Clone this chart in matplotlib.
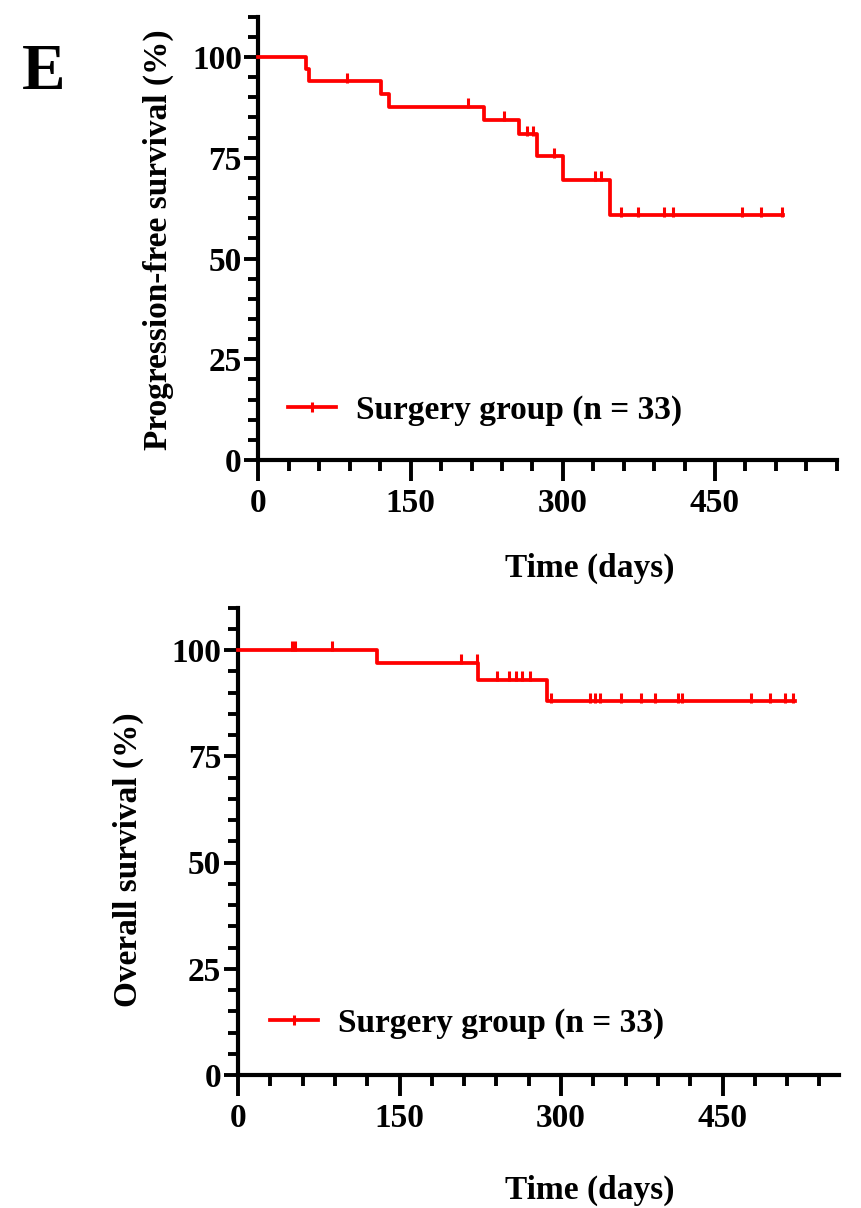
import numpy as np
import matplotlib
matplotlib.use("Agg")
import matplotlib.pyplot as plt
from matplotlib.lines import Line2D

plt.rcParams['font.family'] = ['Liberation Serif', 'DejaVu Serif']
plt.rcParams['font.weight'] = 'bold'

# progression-free survival (top)
pfs_times = [0, 47, 50, 121, 129, 222, 257, 275, 300, 347, 517]
pfs_surv = [100, 96.97, 93.94, 90.81, 87.68, 84.43, 80.8, 75.4, 69.5, 60.7, 60.7]
pfs_cens = [87, 207, 242, 265, 271, 291, 332, 338, 357, 374, 400, 409, 477, 495, 516]

# overall survival (bottom)
os_times = [0, 129, 223, 287, 517]
os_surv = [100, 96.9, 93.0, 87.9, 87.9]
os_cens = [50, 53, 87, 207, 222, 241, 252, 258, 264, 271, 291, 327, 332, 336,
           356, 374, 387, 409, 412, 476, 494, 508, 515]

xticks = [0, 150, 300, 450]
yticks = [0, 25, 50, 75, 100]
legend_label = "Surgery group (n = 33)"
RED = '#ff0000'
W, H = 862, 1208
FS = 24


def surv_at(times, surv, t):
    i = np.searchsorted(times, t, side='right') - 1
    return surv[i]


def km_panel(ax, times, surv, cens, xmax, leg_xy):
    ax.step(times, surv, where='post', color=RED, lw=2.7, clip_on=False, zorder=3)
    cy = [surv_at(times, surv, c) for c in cens]
    ax.plot(cens, np.array(cy) + 0.9, ls='none', marker='|', ms=7, mew=2.2,
            color=RED, clip_on=False, zorder=3)
    ax.set_xlim(0, xmax)
    ax.set_ylim(0, 110)
    ax.set_xticks(xticks)
    ax.set_xticks(np.arange(0, xmax + 1, 30), minor=True)
    ax.set_yticks(yticks)
    ax.set_yticks(np.arange(0, 111, 5), minor=True)
    for s in ['top', 'right']:
        ax.spines[s].set_visible(False)
    for s in ['left', 'bottom']:
        ax.spines[s].set_linewidth(3.0)
    ax.tick_params(axis='x', which='major', length=15, width=2.8, labelsize=FS, pad=5)
    ax.tick_params(axis='x', which='minor', length=8, width=2.8)
    ax.tick_params(axis='y', which='major', length=10, width=2.8, labelsize=FS, pad=2)
    ax.tick_params(axis='y', which='minor', length=7, width=2.8)
    for lab in ax.get_xticklabels() + ax.get_yticklabels():
        lab.set_fontweight('bold')
    h = Line2D([], [], color=RED, lw=2.7, marker='|', ms=7, mew=2.2)
    ax.legend([h], [legend_label], loc='center left', bbox_to_anchor=leg_xy,
              frameon=False, handlelength=1.45, handletextpad=0.6,
              borderpad=0, borderaxespad=0, numpoints=1,
              prop={'weight': 'bold', 'size': FS})


fig = plt.figure(figsize=(W / 100, H / 100), dpi=100)

ax1 = fig.add_axes([258.5 / W, 1 - 460 / H, 578.2 / W, 443.3 / H])
km_panel(ax1, pfs_times, pfs_surv, pfs_cens, 570, (0.051, 0.113))

ax2 = fig.add_axes([238 / W, 1 - 1075 / H, 600.8 / W, 467.5 / H])
km_panel(ax2, os_times, os_surv, os_cens, 558, (0.053, 0.111))

fig.text(158 / W, 1 - 240 / H, "Progression-free survival (%)", rotation=90,
         ha='center', va='center', fontsize=FS, fontweight='bold')
fig.text(128 / W, 1 - 860 / H, "Overall survival (%)", rotation=90,
         ha='center', va='center', fontsize=FS, fontweight='bold')
fig.text(590 / W, 1 - 568 / H, "Time (days)", ha='center', va='center',
         fontsize=FS, fontweight='bold')
fig.text(590 / W, 1 - 1190 / H, "Time (days)", ha='center', va='center',
         fontsize=FS, fontweight='bold')
fig.text(44 / W, 1 - 73 / H, "E", ha='center', va='center',
         fontsize=47, fontweight='bold')

fig.savefig("out.png", dpi=100)
